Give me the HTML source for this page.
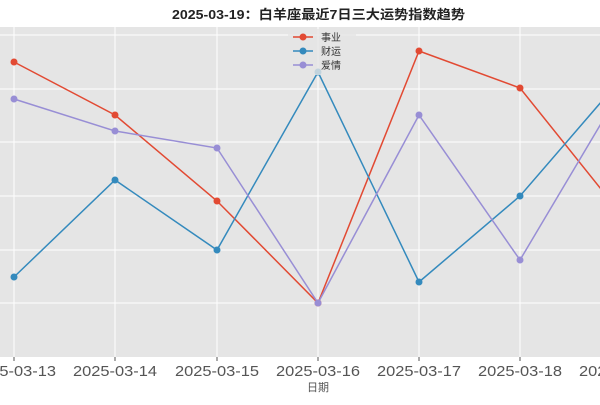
<!DOCTYPE html>
<html><head><meta charset="utf-8"><style>
body{margin:0;background:#fff;}
text{font-family:"Liberation Sans","Noto Sans CJK SC",sans-serif;}
</style></head><body>
<svg width="600" height="400" xmlns="http://www.w3.org/2000/svg">
<rect x="0" y="0" width="600" height="400" fill="#fff"/>
<rect x="-10" y="27" width="620" height="330" fill="#e5e5e5"/>
<g stroke="#fff" stroke-width="1">
<line x1="0" x2="600" y1="35" y2="35"/><line x1="0" x2="600" y1="89" y2="89"/>
<line x1="0" x2="600" y1="142" y2="142"/><line x1="0" x2="600" y1="196" y2="196"/>
<line x1="0" x2="600" y1="250" y2="250"/><line x1="0" x2="600" y1="303" y2="303"/>
<line x1="14" x2="14" y1="27" y2="357"/><line x1="115" x2="115" y1="27" y2="357"/>
<line x1="217" x2="217" y1="27" y2="357"/><line x1="318" x2="318" y1="27" y2="357"/>
<line x1="419" x2="419" y1="27" y2="357"/><line x1="520" x2="520" y1="27" y2="357"/>
</g>
<g stroke="#555" stroke-width="1">
<line x1="14" x2="14" y1="357" y2="361"/><line x1="115" x2="115" y1="357" y2="361"/>
<line x1="217" x2="217" y1="357" y2="361"/><line x1="318" x2="318" y1="357" y2="361"/>
<line x1="419" x2="419" y1="357" y2="361"/><line x1="520" x2="520" y1="357" y2="361"/>
</g>
<g font-size="15" fill="#555">
<text x="-28" y="376" textLength="84" lengthAdjust="spacingAndGlyphs">2025-03-13</text>
<text x="73" y="376" textLength="84" lengthAdjust="spacingAndGlyphs">2025-03-14</text>
<text x="175" y="376" textLength="84" lengthAdjust="spacingAndGlyphs">2025-03-15</text>
<text x="276" y="376" textLength="84" lengthAdjust="spacingAndGlyphs">2025-03-16</text>
<text x="377" y="376" textLength="84" lengthAdjust="spacingAndGlyphs">2025-03-17</text>
<text x="478" y="376" textLength="84" lengthAdjust="spacingAndGlyphs">2025-03-18</text>
<text x="579" y="376" textLength="84" lengthAdjust="spacingAndGlyphs">2025-03-19</text>
</g>
<text x="318" y="391" font-size="11" fill="#555" text-anchor="middle">日期</text>
<text x="172" y="19" font-size="13" font-weight="bold" fill="#222" textLength="293" lengthAdjust="spacingAndGlyphs">2025-03-19：白羊座最近7日三大运势指数趋势</text>
<g fill="none" stroke-width="1.5">
<polyline stroke="#e24a33" points="14,62 115,115 217,201 318,303 419,51 520,88 621,214"/>
<polyline stroke="#348abd" points="14,277 115,180 217,250 318,72 419,282 520,196 621,79"/>
<polyline stroke="#988ed5" points="14,99 115,131 217,148 318,303 419,115 520,260 621,90"/>
</g>
<g fill="#e24a33"><circle cx="14" cy="62" r="3.5"/><circle cx="115" cy="115" r="3.5"/><circle cx="217" cy="201" r="3.5"/><circle cx="318" cy="303" r="3.5"/><circle cx="419" cy="51" r="3.5"/><circle cx="520" cy="88" r="3.5"/></g>
<g fill="#348abd"><circle cx="14" cy="277" r="3.5"/><circle cx="115" cy="180" r="3.5"/><circle cx="217" cy="250" r="3.5"/><circle cx="318" cy="72" r="3.5"/><circle cx="419" cy="282" r="3.5"/><circle cx="520" cy="196" r="3.5"/></g>
<g fill="#988ed5"><circle cx="14" cy="99" r="3.5"/><circle cx="115" cy="131" r="3.5"/><circle cx="217" cy="148" r="3.5"/><circle cx="318" cy="303" r="3.5"/><circle cx="419" cy="115" r="3.5"/><circle cx="520" cy="260" r="3.5"/></g>
<rect x="288" y="29" width="68" height="46" fill="#e5e5e5" fill-opacity="0.8" rx="2"/>
<g stroke-width="1.5">
<line x1="293" x2="313" y1="37" y2="37" stroke="#e24a33"/><circle cx="303" cy="37" r="3.5" fill="#e24a33"/>
<line x1="293" x2="313" y1="51" y2="51" stroke="#348abd"/><circle cx="303" cy="51" r="3.5" fill="#348abd"/>
<line x1="293" x2="313" y1="65" y2="65" stroke="#988ed5"/><circle cx="303" cy="65" r="3.5" fill="#988ed5"/>
</g>
<g font-size="10" fill="#333">
<text x="321" y="41">事业</text><text x="321" y="55">财运</text><text x="321" y="69">爱情</text>
</g>
</svg>
</body></html>
